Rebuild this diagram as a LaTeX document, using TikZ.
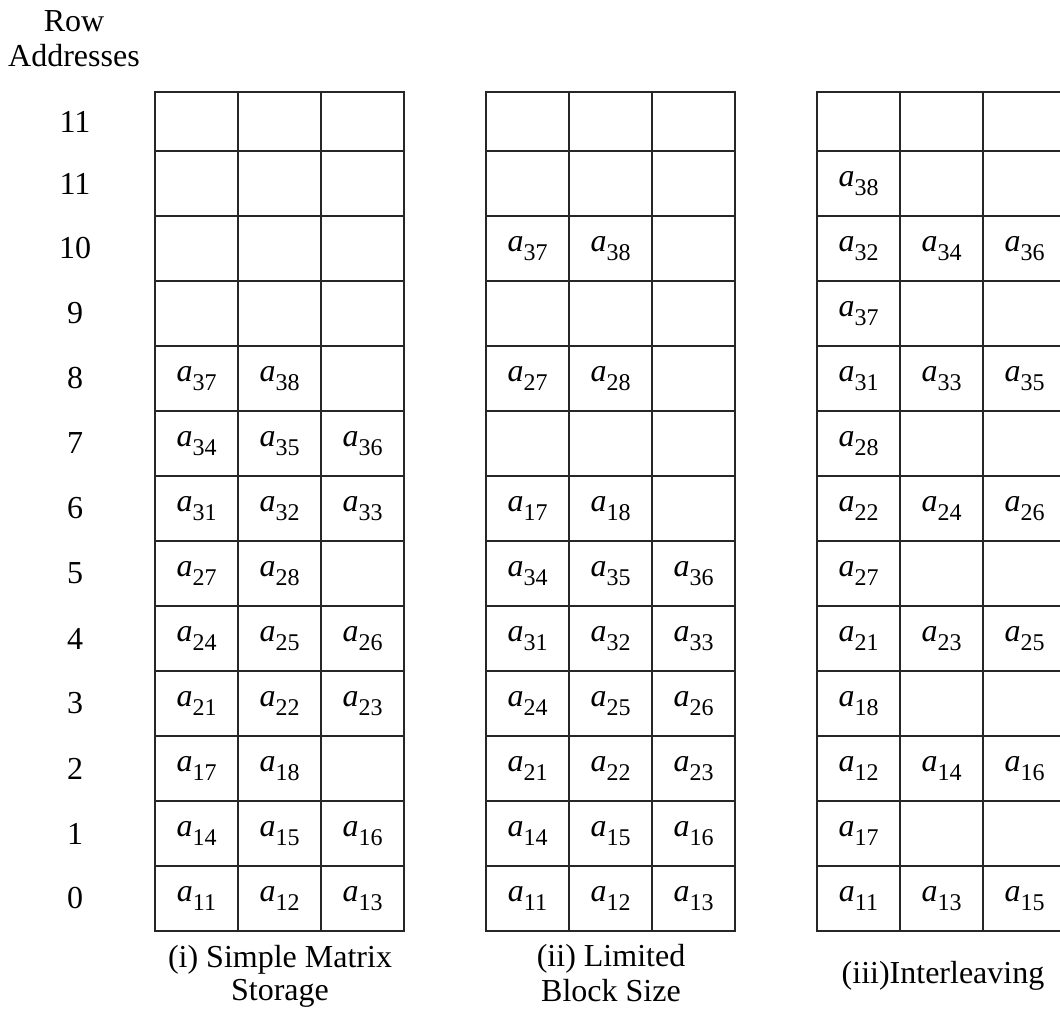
\documentclass[tikz,border=0pt]{standalone}
\usepackage{fontspec}
\setmainfont{Liberation Serif}
\newcommand\el[1]{\textit{a}\raisebox{-8.5pt}{\fontsize{24}{24}\selectfont #1}}
\begin{document}
\begin{tikzpicture}[x=1pt,y=-1pt,
  cell/.style={draw=black!85,line width=1.6pt,minimum width=83pt,inner sep=0pt,outer sep=0pt},
  lbl/.style={font=\fontsize{32}{35}\selectfont,inner sep=0pt},
  elt/.style={font=\fontsize{32}{35}\selectfont,inner sep=0pt}]
\useasboundingbox (0,0) rectangle (1060,1011);
\clip (0,0) rectangle (1060,1011);
% grids
\foreach \g/\gx in {1/155,2/486,3/817} {
  \foreach \r in {0,...,12} {
    \foreach \c in {0,1,2} {
      \ifnum\r=0 \def\h{59}\def\cy{121.5}\else \pgfmathsetmacro\cy{183.5+65*(\r-1)}\def\h{65}\fi
      \node[cell,minimum height=\h pt] (g\g-\r-\c) at ({\gx+41.5+83*\c},\cy) {};
    }
  }
}
% row labels
\node[lbl,anchor=base] (hrow) at (74,32) {Row};
\node[lbl,anchor=base] (hadr) at (74,67) {Addresses};
\node[lbl] (rl0) at (75,121.5) {11};
\foreach \r in {1,...,12} {
  \pgfmathsetmacro\cy{183.5+65*(\r-1)}
  \pgfmathtruncatemacro\lab{12-\r}
  \node[lbl] (rl\r) at (75,\cy) {\lab};
}
% entries
\foreach \g/\r/\c/\n in {
  1/4/0/37,1/4/1/38,
  1/5/0/34,1/5/1/35,1/5/2/36,
  1/6/0/31,1/6/1/32,1/6/2/33,
  1/7/0/27,1/7/1/28,
  1/8/0/24,1/8/1/25,1/8/2/26,
  1/9/0/21,1/9/1/22,1/9/2/23,
  1/10/0/17,1/10/1/18,
  1/11/0/14,1/11/1/15,1/11/2/16,
  1/12/0/11,1/12/1/12,1/12/2/13,
  2/2/0/37,2/2/1/38,
  2/4/0/27,2/4/1/28,
  2/6/0/17,2/6/1/18,
  2/7/0/34,2/7/1/35,2/7/2/36,
  2/8/0/31,2/8/1/32,2/8/2/33,
  2/9/0/24,2/9/1/25,2/9/2/26,
  2/10/0/21,2/10/1/22,2/10/2/23,
  2/11/0/14,2/11/1/15,2/11/2/16,
  2/12/0/11,2/12/1/12,2/12/2/13,
  3/1/0/38,
  3/2/0/32,3/2/1/34,3/2/2/36,
  3/3/0/37,
  3/4/0/31,3/4/1/33,3/4/2/35,
  3/5/0/28,
  3/6/0/22,3/6/1/24,3/6/2/26,
  3/7/0/27,
  3/8/0/21,3/8/1/23,3/8/2/25,
  3/9/0/18,
  3/10/0/12,3/10/1/14,3/10/2/16,
  3/11/0/17,
  3/12/0/11,3/12/1/13,3/12/2/15} {
  \node[elt] (e\g-\r-\c) at (g\g-\r-\c) {\el{\n}};
}
% captions
\node[lbl,anchor=base] (cap1a) at (280,967) {(i) Simple Matrix};
\node[lbl,anchor=base] (cap1b) at (280,1000) {Storage};
\node[lbl,anchor=base] (cap2a) at (611,966) {(ii) Limited};
\node[lbl,anchor=base] (cap2b) at (611,1001) {Block Size};
\node[lbl,anchor=base] (cap3) at (943,983) {(iii)Interleaving};
\end{tikzpicture}
\end{document}
